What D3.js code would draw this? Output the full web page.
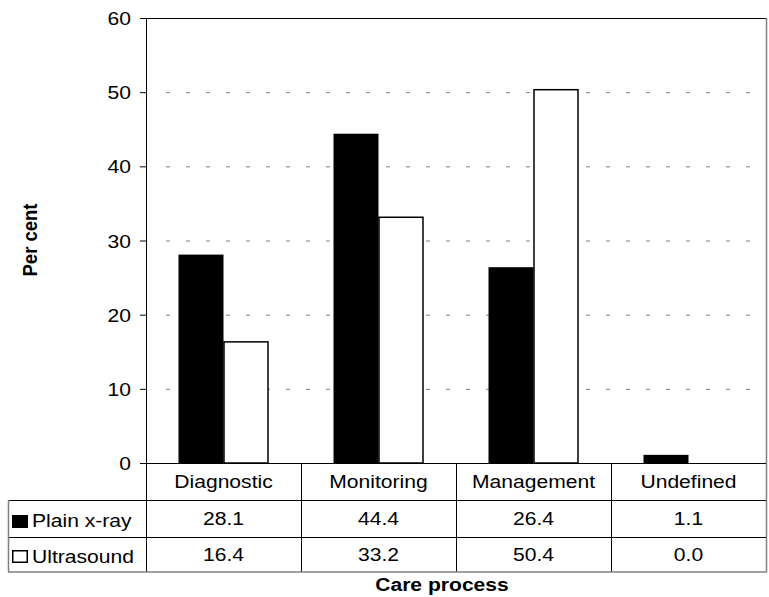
<!DOCTYPE html>
<html><head><meta charset="utf-8">
<script src="https://cdn.jsdelivr.net/npm/d3@7"></script>
<style>body{margin:0;background:#fff}svg{display:block;font-family:"Liberation Sans",Arial,sans-serif}</style>
</head><body>
<svg id="c" width="769" height="597"></svg>
<script>
const categories = ["Diagnostic","Monitoring","Management","Undefined"];
const seriesNames = ["Plain x-ray","Ultrasound"];
const plainXray = [28.1,44.4,26.4,1.1];
const ultrasound = [16.4,33.2,50.4,0.0];
const yTicks = [0,10,20,30,40,50,60];

const FS = 18.5, SX = 1.14;
const svg = d3.select("#c");
const L=146, R=766, T=18, B=463;
const x = d3.scaleBand().domain(categories).range([L,R]);
const y = d3.scaleLinear().domain([0,60]).range([B,T]);
const sub = d3.scaleBand().domain(seriesNames).range([0,90]);
const barOff = (x.bandwidth()-90)/2;

function txt(g, px, py, s, anchor, bold){
  return g.append("text").attr("transform",`translate(${px},${py}) scale(${SX},1)`)
    .attr("text-anchor",anchor||"start").attr("font-size",FS)
    .attr("font-weight",bold?"bold":"normal").attr("fill","#000").text(s);
}

// gridlines
svg.append("g").selectAll("line").data(yTicks.filter(d=>d>0)).join("line")
  .attr("x1",L+20).attr("x2",R).attr("y1",d=>y(d)+0.5).attr("y2",d=>y(d)+0.5)
  .attr("stroke","#808080").attr("stroke-width",1).attr("stroke-dasharray","4,16");

const series = [plainXray, ultrasound];
const fills = ["#000","#fff"];
series.forEach((vals,si)=>{
  svg.append("g").selectAll("rect").data(vals.map((v,i)=>({v,c:categories[i]})).filter(d=>d.v>0)).join("rect")
    .attr("x",d=>x(d.c)+barOff+sub(seriesNames[si])+(si?0.5:0))
    .attr("y",d=>y(d.v)+(si?0.5:0))
    .attr("width",sub.bandwidth()-(si?1:0))
    .attr("height",d=>B-y(d.v)-(si?0.5:0))
    .attr("fill",fills[si]).attr("stroke",si?"#000":"none").attr("stroke-width",si?1.5:0);
});

// plot frame
svg.append("line").attr("x1",L).attr("x2",R).attr("y1",T+0.5).attr("y2",T+0.5).attr("stroke","#000");
svg.append("line").attr("x1",R+0.5).attr("x2",R+0.5).attr("y1",T).attr("y2",572).attr("stroke","#808080").attr("stroke-width",1.5);
svg.append("line").attr("x1",L+0.5).attr("x2",L+0.5).attr("y1",T).attr("y2",572).attr("stroke","#000");
svg.append("line").attr("x1",L-6).attr("x2",R).attr("y1",B+0.5).attr("y2",B+0.5).attr("stroke","#000");

// y axis ticks + labels
const ga = svg.append("g");
ga.selectAll("line").data(yTicks).join("line")
  .attr("x1",L-6).attr("x2",L).attr("y1",d=>y(d)+0.5).attr("y2",d=>y(d)+0.5).attr("stroke","#000");
yTicks.forEach(t=>txt(ga, 131, y(t)+7, String(t), "end"));

// table
const rowTops=[463,500,537,572];
const gt = svg.append("g");
categories.forEach(c=>txt(gt, x(c)+x.bandwidth()/2, 488, c, "middle"));
gt.selectAll("line.v").data(categories.slice(1)).join("line")
  .attr("x1",d=>x(d)+0.5).attr("x2",d=>x(d)+0.5).attr("y1",B).attr("y2",572).attr("stroke","#000");
svg.append("line").attr("x1",8).attr("x2",R).attr("y1",500.5).attr("y2",500.5).attr("stroke","#000");
svg.append("line").attr("x1",8).attr("x2",R).attr("y1",537.5).attr("y2",537.5).attr("stroke","#000");
svg.append("line").attr("x1",8).attr("x2",R+1).attr("y1",572).attr("y2",572).attr("stroke","#808080").attr("stroke-width",1.5);
svg.append("line").attr("x1",8.5).attr("x2",8.5).attr("y1",500).attr("y2",572).attr("stroke","#808080").attr("stroke-width",1.5);

const rowBase=[525,561];
const keyTop=[515,550];
series.forEach((vals,si)=>{
  if(si===0){
    svg.append("rect").attr("x",12).attr("y",keyTop[si]).attr("width",16).attr("height",13).attr("fill","#000");
  } else {
    svg.append("rect").attr("x",12.75).attr("y",keyTop[si]+0.75).attr("width",14.5).attr("height",11.5)
      .attr("fill","#fff").attr("stroke","#000").attr("stroke-width",1.5);
  }
  txt(svg, 32, rowBase[si]+2, seriesNames[si], "start");
  vals.forEach((v,i)=>txt(svg, x(categories[i])+x.bandwidth()/2, rowBase[si], v.toFixed(1), "middle"));
});

// axis titles
svg.append("text").attr("transform",`translate(37,240) rotate(-90) scale(1,${SX})`).attr("text-anchor","middle")
  .attr("font-size",FS).attr("font-weight","bold").text("Per cent");
txt(svg, 442, 591, "Care process", "middle", true);
</script>
</body></html>
